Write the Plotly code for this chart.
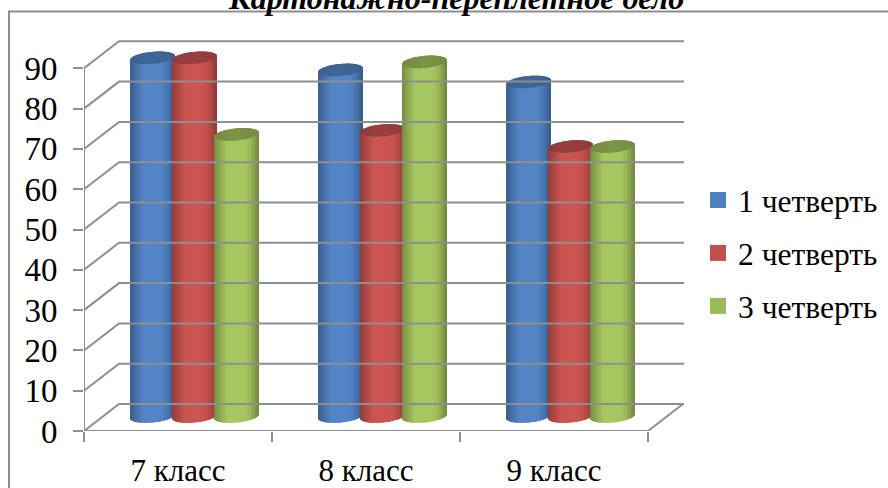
import math
import plotly.graph_objects as go

title_text = "Картонажно-переплетное дело"
categories = ["7 класс", "8 класс", "9 класс"]
series_names = ["1 четверть", "2 четверть", "3 четверть"]
quarter1 = [89, 86, 83]
quarter2 = [89, 71, 67]
quarter3 = [70, 88, 67]
y_ticks = [0, 10, 20, 30, 40, 50, 60, 70, 80, 90]

series_values = [quarter1, quarter2, quarter3]
base_colors = ["#4F81BD", "#C0504D", "#9BBB59"]
face_colors = ["#5284C6", "#CC5551", "#A6C75F"]

# page geometry (pixels)
W, H = 888, 488
L, R, T, B = 84, 684, 40, 431
PX_X = 188.0   # pixels per category
PX_Y = 4.03    # pixels per value unit
x_max = (R - L) / PX_X
y_max = (B - T) / PX_Y
depth_dx, depth_dy = 35 / PX_X, 27 / PX_Y   # back wall offset
mid_dx, mid_dy = 16.5 / PX_X, 14.5 / PX_Y   # plane of the columns
half_w, half_h, tilt = 22 / PX_X, 6.0 / PX_Y, 2.0 / PX_Y
spacing = 42 / PX_X
N = 44
GREY = "#8E8E8E"


def shade(hex_col, f):
    r, g, b = (int(hex_col[i:i + 2], 16) for i in (1, 3, 5))
    return "rgb(%d,%d,%d)" % (r * f, g * f, b * f)


def face_factor(t):
    if t < -0.4:
        return 0.70 + 0.30 * ((t + 1) / 0.6) ** 0.9
    if t > 0.3:
        return 1.0 - 0.32 * ((t - 0.3) / 0.7) ** 2
    return 1.0


fig = go.Figure()

# walls and floor
gx, gy = [], []
for v in y_ticks:
    gx += [0, depth_dx, x_max, None]
    gy += [v, v + depth_dy, v + depth_dy, None]
gx += [0, 0, None, 0, 3, 3 + depth_dx]
gy += [0, 90, None, 0, 0, depth_dy]
fig.add_trace(go.Scatter(x=gx, y=gy, mode="lines", showlegend=False, hoverinfo="skip",
                         line=dict(color=GREY, width=2), cliponaxis=False))

# cylinders: one bar trace per series, each cylinder built from thin slices
for s, (vals, base, face) in enumerate(zip(series_values, base_colors, face_colors)):
    xs, ys, bases, offs, cols = [], [], [], [], []
    centre = (s - 1) * spacing
    sw = 2 * half_w / N
    for g, v in enumerate(vals):
        for part in ("body", "cap"):
            for i in range(N):
                t = -1 + (2 * i + 1) / N
                arc = half_h * math.sqrt(1 - t * t)
                lean = tilt * t
                top = v + mid_dy + lean
                if part == "body":
                    lo, hi = mid_dy - arc + lean, top - arc
                    col = shade(face, face_factor(t))
                else:
                    lo, hi = top - arc, top + arc
                    col = shade(base, 0.80 - 0.05 * abs(t))
                xs.append(g + 0.5)
                bases.append(lo)
                ys.append(hi - lo)
                offs.append(mid_dx + centre + t * half_w - sw * 0.7)
                cols.append(col)
    fig.add_trace(go.Bar(x=xs, y=ys, base=bases, offset=offs, width=sw * 1.4,
                         marker=dict(color=cols, line=dict(width=0)),
                         showlegend=False, hoverinfo="skip"))

# legend entries
for name, col in zip(series_names, base_colors):
    fig.add_trace(go.Scatter(x=[None], y=[None], mode="markers", name=name, legendgroup=name,
                             marker=dict(symbol="square", size=16, color=col)))

fig.update_layout(
    width=W, height=H, barmode="overlay", paper_bgcolor="white", plot_bgcolor="white",
    margin=dict(l=L, r=W - R, t=T, b=H - B, autoexpand=False),
    font=dict(family="Liberation Serif", color="black"),
    xaxis=dict(range=[0, x_max], tickmode="array", tickvals=[0.5, 1.5, 2.5], ticktext=categories,
               showgrid=False, zeroline=False, showline=False, ticks="", tickfont=dict(size=31),
               ticklabelstandoff=18,
               minor=dict(tickmode="array", tickvals=[0, 1, 2, 3], ticks="outside", ticklen=10,
                          tickwidth=2, tickcolor=GREY, showgrid=False)),
    yaxis=dict(range=[0, y_max], tickmode="array", tickvals=y_ticks, showgrid=False,
               zeroline=False, showline=False, ticks="outside", ticklen=10, tickwidth=2,
               tickcolor=GREY, tickfont=dict(size=33), ticklabelstandoff=9),
    legend=dict(x=698 / W, xanchor="left", y=1 - 173 / H, yanchor="top", yref="container",
                xref="container", font=dict(size=31.5), tracegroupgap=9,
                bgcolor="rgba(0,0,0,0)", itemclick=False, itemdoubleclick=False),
    annotations=[dict(text="<b><i>" + title_text + "</i></b>",
                      x=(456 - L) / (R - L), xref="paper", xanchor="center",
                      y=(B + 2) / (B - T), yref="paper", yanchor="middle",
                      showarrow=False, font=dict(size=32, family="Liberation Serif"))],
    shapes=[dict(type="rect", xref="paper", yref="paper",
                 x0=(9 - L) / (R - L), x1=(W + 20 - L) / (R - L),
                 y0=(B - H - 20) / (B - T), y1=(B - 11.5) / (B - T),
                 line=dict(color=GREY, width=2), layer="below")],
)
fig.write_html("out.html", config={"displayModeBar": False},
               post_script="document.body.style.margin='0';")
